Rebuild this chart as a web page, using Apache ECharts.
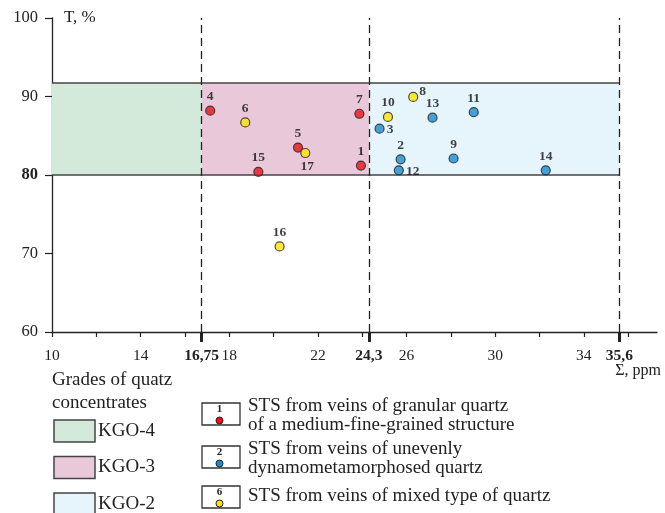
<!DOCTYPE html>
<html>
<head>
<meta charset="utf-8">
<script src="https://cdn.jsdelivr.net/npm/echarts@6/dist/echarts.min.js"></script>
<style>
  html, body { margin: 0; padding: 0; background: #fff; }
  #chart { width: 665px; height: 513px; }
</style>
</head>
<body>
<div id="chart"></div>
<script>
// axis ticks / labels
const xLabelValues = [10, 14, 18, 22, 26, 30, 34]
const xTickValues = [10, 12, 14, 16, 18, 20, 22, 24, 26, 28, 30, 32, 34, 36]
const boundaryValues = [16.75, 24.3, 35.6]
const yLabelValues = [60, 70, 80, 90, 100]

// grade bands (KGO)
const gradeNames = ['KGO-4', 'KGO-3', 'KGO-2']
const gradeFrom = [10, 16.75, 24.3]
const gradeTo = [16.75, 24.3, 35.6]
const bandLow = 80
const bandHigh = 91.7

// samples: [sum ppm, T %, sample no]
const granularQuartz = [
  [23.94, 81.2, '1'],
  [17.14, 88.2, '4'],
  [21.1, 83.5, '5'],
  [23.87, 87.8, '7'],
  [19.31, 80.4, '15'],
]
const dynamoQuartz = [
  [25.73, 82.0, '2'],
  [24.78, 85.9, '3'],
  [28.12, 82.1, '9'],
  [29.03, 88.0, '11'],
  [25.65, 80.6, '12'],
  [27.17, 87.3, '13'],
  [32.28, 80.6, '14'],
]
const mixedQuartz = [
  [18.72, 86.7, '6'],
  [26.3, 89.95, '8'],
  [25.16, 87.4, '10'],
  [20.27, 70.9, '16'],
  [21.43, 82.8, '17'],
]

const seriesNames = [
  'STS from veins of granular quartz\nof a medium-fine-grained structure',
  'STS from veins of unevenly\ndynamometamorphosed quartz',
  'STS from veins of mixed type of quartz',
]
const seriesSample = ['1', '2', '6']

const FONT = 'Liberation Serif'
const gradeColors = ['#d3e9da', '#e9c9d9', '#e6f4fb']
const pointColors = ['#e8141c', '#1b8bcf', '#ffe500']

// label placement for some points
const labelPlace = {
  '3': { position: 'right', distance: 2, offset: [0, 1] },
  '12': { position: 'right', distance: 2, offset: [0, 1] },
  '17': { position: 'bottom', distance: 1, offset: [2, 0] },
  '8': { position: 'right', distance: 1, offset: [0, -5] },
}

const fmt = v => String(v).replace('.', ',')

function makeSeries(data, idx) {
  return {
    type: 'scatter',
    name: seriesNames[idx],
    symbolSize: 9,
    itemStyle: { color: pointColors[idx], borderColor: '#222', borderWidth: 1.2 },
    label: {
      show: true,
      position: 'top',
      distance: 2,
      fontFamily: FONT,
      fontWeight: 'bold',
      fontSize: 13.5,
      color: '#111',
      formatter: p => p.data.value[2],
    },
    data: data.map(d => {
      const item = { value: d }
      if (labelPlace[d[2]]) item.label = labelPlace[d[2]]
      return item
    }),
    z: 5,
  }
}

// bands, band edges and dashed boundaries
const bandSeries = {
  type: 'scatter',
  data: [],
  silent: true,
  markArea: {
    silent: true,
    data: gradeNames.map((g, i) => [
      { xAxis: gradeFrom[i], yAxis: bandLow, itemStyle: { color: gradeColors[i] } },
      { xAxis: gradeTo[i], yAxis: bandHigh },
    ]),
  },
  markLine: {
    silent: true,
    symbol: 'none',
    label: { show: false },
    data: [
      [{ coord: [gradeFrom[0], bandHigh], lineStyle: { color: '#444', width: 1.5, type: 'solid' } },
       { coord: [gradeTo[2], bandHigh] }],
      [{ coord: [gradeFrom[0], bandLow], lineStyle: { color: '#444', width: 1.5, type: 'solid' } },
       { coord: [gradeTo[2], bandLow] }],
    ].concat(boundaryValues.map(v => ({
      xAxis: v,
      lineStyle: { color: '#222', width: 1.3, type: [8, 5] },
    }))),
  },
  z: 1,
}

// legend drawn as graphics
const graphics = [
  { type: 'text', left: 64, top: 9, style: { text: 'T, %', font: '17px ' + FONT, fill: '#222' } },
  { type: 'text', right: 4, top: 363, style: { text: 'Σ, ppm', font: '16px ' + FONT, fill: '#222' } },
  { type: 'text', left: 52, top: 369, style: { text: 'Grades of quatz\nconcentrates', font: '19px ' + FONT, lineHeight: 23, fill: '#222' } },
]
gradeNames.forEach((g, i) => {
  const y = 420 + i * 36.5
  graphics.push({
    type: 'rect', shape: { x: 54, y: y, width: 41, height: 22 },
    style: { fill: gradeColors[i], stroke: '#444', lineWidth: 1.5 },
  })
  graphics.push({
    type: 'text', x: 98, y: y + 11,
    style: { text: g, font: '19px ' + FONT, fill: '#222', verticalAlign: 'middle' },
  })
})
seriesNames.forEach((s, i) => {
  const y = [403, 446, 486][i]
  graphics.push({
    type: 'rect', shape: { x: 202, y: y, width: 38, height: 22 },
    style: { fill: '#fff', stroke: '#333', lineWidth: 1.3 },
  })
  graphics.push({
    type: 'text', x: 219.5, y: y + 6,
    style: { text: seriesSample[i], font: 'bold 11px ' + FONT, fill: '#222', align: 'center', verticalAlign: 'middle' },
  })
  graphics.push({
    type: 'circle', shape: { cx: 219.5, cy: y + 17.5, r: 3.5 },
    style: { fill: pointColors[i], stroke: '#222', lineWidth: 1 },
  })
  graphics.push({
    type: 'text', x: 248, y: [396.5, 440, 487][i],
    style: { text: s, font: '19px ' + FONT, lineHeight: 19, fill: '#222', verticalAlign: 'top' },
  })
})

const chart = echarts.init(document.getElementById('chart'))
chart.setOption({
  animation: false,
  backgroundColor: '#fff',
  grid: { left: 52, right: 8, top: 18, bottom: 181 },
  xAxis: [
    {
      type: 'value', min: 10, max: 37.3, position: 'bottom',
      axisLine: { lineStyle: { color: '#222', width: 1.3 } },
      axisTick: { customValues: xTickValues, length: 5, lineStyle: { color: '#222', width: 1.2 } },
      axisLabel: { customValues: xLabelValues, margin: 16, fontFamily: FONT, fontSize: 15.5, color: '#222' },
      splitLine: { show: false },
    },
    {
      type: 'value', min: 10, max: 37.3, position: 'bottom',
      axisLine: { show: false },
      axisTick: { customValues: boundaryValues, length: 10, lineStyle: { color: '#222', width: 3 } },
      axisLabel: {
        customValues: boundaryValues, margin: 16, fontFamily: FONT, fontSize: 15.5,
        fontWeight: 'bold', color: '#222', formatter: fmt,
      },
      splitLine: { show: false },
    },
  ],
  yAxis: {
    type: 'value', min: 60, max: 100, interval: 10,
    axisLine: { show: true, lineStyle: { color: '#222', width: 1.3 } },
    axisTick: { show: true, length: 7, lineStyle: { color: '#222', width: 1.2 } },
    axisLabel: {
      margin: 14, fontFamily: FONT, fontSize: 16.5, color: '#222',
      formatter: v => (v === 80 ? '{b|80}' : String(v)),
      rich: { b: { fontFamily: FONT, fontSize: 16.5, fontWeight: 'bold', color: '#222' } },
    },
    splitLine: { show: false },
  },
  graphic: graphics,
  series: [
    bandSeries,
    makeSeries(granularQuartz, 0),
    makeSeries(dynamoQuartz, 1),
    makeSeries(mixedQuartz, 2),
  ],
})
</script>
</body>
</html>
